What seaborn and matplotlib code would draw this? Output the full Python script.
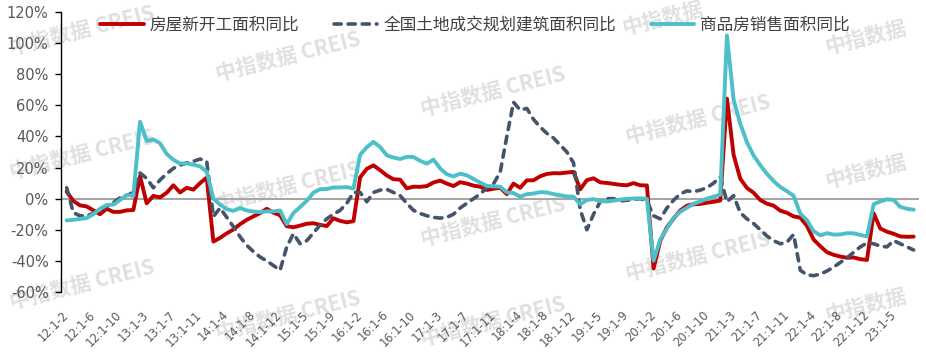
import numpy as np
import pandas as pd
import matplotlib
matplotlib.use("Agg")
import matplotlib.pyplot as plt
import seaborn as sns

# ---------------- data ----------------
years = ["12", "13", "14", "15", "16", "17", "18", "19", "20", "21", "22", "23"]
months = ["1-2", "1-3", "1-4", "1-5", "1-6", "1-7", "1-8", "1-9", "1-10", "1-11", "1-12"]
categories = [f"{y}:{m}" for y in years for m in months][:128]

series_names = ["房屋新开工面积同比", "全国土地成交规划建筑面积同比", "商品房销售面积同比"]

new_start = [
    4.6, -1.5, -4.3, -5.0, -7.5, -10.0, -6.5, -8.5, -8.5, -7.5, -7.3,        # 2012
    14.5, -3.0, 1.8, 0.8, 3.8, 8.6, 4.0, 7.0, 5.8, 10.0, 13.5,               # 2013
    -27.6, -25.2, -22.3, -19.8, -16.4, -13.6, -11.4, -9.3, -6.5, -9.0, -10.7,  # 2014
    -17.7, -18.4, -17.3, -16.1, -15.8, -16.8, -17.6, -12.6, -14.3, -15.2, -14.5,  # 2015
    13.7, 19.2, 21.4, 18.3, 14.9, 12.5, 12.2, 6.6, 7.7, 7.6, 8.1,            # 2016
    10.4, 11.6, 9.7, 8.1, 10.6, 9.7, 8.4, 7.7, 5.6, 6.4, 7.0,                # 2017
    2.9, 9.7, 7.0, 11.8, 11.8, 14.4, 15.9, 16.4, 16.3, 16.8, 17.2,           # 2018
    6.0, 11.9, 13.1, 10.5, 10.1, 9.5, 8.9, 8.6, 10.0, 8.6, 8.5,              # 2019
    -44.9, -27.2, -18.4, -12.8, -7.6, -4.5, -3.6, -3.4, -2.6, -2.0, -1.2,    # 2020
    64.3, 28.2, 12.8, 6.9, 3.8, -0.9, -3.2, -4.5, -7.7, -9.1, -11.4,         # 2021
    -12.2, -17.5, -26.3, -30.6, -34.4, -36.1, -37.2, -38.0, -37.8, -38.9, -39.4,  # 2022
    -9.4, -19.2, -21.2, -22.6, -24.3, -24.5, -24.4,                          # 2023
]

land = [
    7, -9, -11, -11, -9.5, -7, -5, -2.5, 0.5, 2, 4,                          # 2012
    16.5, 13, 7, 12, 16, 19.5, 21.5, 23, 24, 25.5, 24,                       # 2013
    -11.5, -6, -12, -18, -24.5, -30, -34, -37.5, -40, -43, -46,              # 2014
    -31, -22.5, -29, -27, -22, -17, -13, -10, -7.5, -3, 4,                   # 2015
    4, -2, 4, 5.5, 6, 4, 2, -3, -7.5, -9.5, -11,                             # 2016
    -12, -12.5, -12, -10, -6, -3, 0, 3, 7, 9.5, 17,                          # 2017
    40, 62, 57, 58, 51, 46, 42, 39, 34.5, 30, 23,                            # 2018
    -7, -20, -10, -2, 0, 0, -1.5, -1, -0.5, 0, -1.5,                         # 2019
    -11, -13, -6, -1, 3, 5, 4.5, 5.5, 7, 10, 14,                             # 2020
    -2, 2, -9, -13, -16, -20, -24, -27, -29, -28, -23,                       # 2021
    -46, -49, -49.5, -48.5, -46.5, -44, -41, -38, -34.5, -31, -28.5,         # 2022
    -29, -30.5, -31, -27, -29, -31, -33,                                     # 2023
]

sales = [
    -14.0, -13.6, -13.0, -12.5, -10.0, -6.5, -4.1, -3.8, -0.9, 2.4, 1.8,      # 2012
    49.5, 37.1, 38.0, 35.6, 28.7, 25.0, 22.6, 22.7, 21.8, 20.8, 17.3,        # 2013
    -0.1, -3.8, -6.8, -7.8, -6.0, -7.6, -8.3, -8.6, -8.2, -8.2, -7.6,        # 2014
    -16.3, -9.2, -5.4, -1.4, 3.9, 6.1, 6.2, 7.2, 7.2, 7.4, 6.5,              # 2015
    28.2, 33.1, 36.5, 33.2, 27.9, 26.4, 25.5, 26.9, 26.8, 24.3, 22.5,        # 2016
    25.1, 19.5, 15.7, 14.3, 16.1, 15.0, 12.7, 10.3, 8.2, 7.9, 7.7,           # 2017
    4.1, 3.6, 1.3, 2.9, 3.3, 4.2, 4.0, 2.9, 2.2, 1.4, 1.3,                   # 2018
    -3.6, -0.9, -0.3, -1.6, -1.8, -1.3, -0.6, -0.1, 0.1, 0.2, -0.1,          # 2019
    -39.9, -26.3, -19.3, -12.3, -8.4, -5.8, -3.3, -1.8, 0.0, 1.3, 2.6,       # 2020
    104.9, 63.8, 48.1, 36.3, 27.7, 21.5, 15.9, 11.3, 7.5, 4.8, 1.9,          # 2021
    -9.6, -13.8, -20.9, -23.6, -22.2, -23.1, -23.0, -22.2, -22.3, -23.3, -24.3,  # 2022
    -3.6, -1.8, -0.4, -0.9, -5.3, -6.5, -7.1,                                # 2023
]

y_ticks = [-60, -40, -20, 0, 20, 40, 60, 80, 100, 120]
watermark_full = "中指数据 CREIS"
watermark_short = "中指数据"

# ---------------- figure ----------------
sns.set_theme(style="white")
plt.rcParams["font.family"] = ["DejaVu Sans", "Noto Sans CJK SC"]

W, H = 926, 360
fig = plt.figure(figsize=(W / 100, H / 100), dpi=100)
ax = fig.add_axes([61 / W, 1 - 292 / H, 858 / W, 280 / H])

pos = np.arange(len(categories))
df = pd.DataFrame({"pos": pos, "cat": categories,
                   series_names[0]: new_start,
                   series_names[1]: land,
                   series_names[2]: sales})

colors = ["#C00000", "#44546A", "#4DBFC8"]
widths = [2.8, 2.6, 2.8]

# watermarks (behind the data), kept inside the picture
wm_items = [(82, 31, watermark_full), (82, 155, watermark_full), (82, 285, watermark_full),
            (288, 57, watermark_full), (288, 187, watermark_full), (288, 316, watermark_full),
            (493, 92, watermark_full), (493, 222, watermark_full), (493, 322, watermark_full),
            (663, 19, watermark_short), (698, 120, watermark_full), (698, 257, watermark_full),
            (866, 38, watermark_short), (866, 172, watermark_short), (866, 306, watermark_short)]
for (px, py, txt) in wm_items:
    ax.text(px / W, 1 - py / H, txt, transform=fig.transFigure,
            ha="center", va="center", rotation=14, fontsize=15,
            fontweight="bold", color="#E0E0E0",
            family=["Noto Sans CJK SC", "DejaVu Sans"],
            clip_on=False, zorder=0.5)

ax.axhline(0, color="#A6A6A6", lw=1.5, zorder=1)

handles = []
for name, c, lw in zip(series_names, colors, widths):
    sns.lineplot(data=df, x="pos", y=name, color=c, lw=lw, ax=ax,
                 label=name, zorder=3)
    ln = ax.lines[-1]
    ln.set_solid_capstyle("round")
    ln.set_solid_joinstyle("round")
    if name == series_names[1]:
        ln.set_dashes((2.0, 1.9))
        ln.set_dash_capstyle("round")
    handles.append(ln)

ax.set_xlim(-0.85, 127.8)
ax.set_ylim(-60, 120)
ax.set_xlabel("")
ax.set_ylabel("")

ax.set_yticks(y_ticks)
ax.set_yticklabels([f"{v}%" for v in y_ticks])
ax.tick_params(axis="y", direction="out", left=True, length=4, width=1,
               color="black", labelsize=10.5, labelcolor="#595959", pad=5)

ax.set_xticks(pos[::4])
ax.set_xticklabels(categories[::4], rotation=45, ha="right", va="center",
                   rotation_mode="anchor", fontsize=8.3, color="#595959")
ax.tick_params(axis="x", bottom=False, length=0, pad=15)

for s in ["top", "right", "bottom"]:
    ax.spines[s].set_visible(False)
ax.spines["left"].set_color("black")
ax.spines["left"].set_linewidth(1)

leg = ax.legend(handles, series_names, loc="center",
                bbox_to_anchor=(0.4825, 0.954), ncol=3, frameon=False,
                handlelength=2.6, handletextpad=0.35, columnspacing=2.1,
                prop={"family": ["Noto Sans CJK SC", "DejaVu Sans"], "size": 12})
for t in leg.get_texts():
    t.set_color("#404040")

fig.savefig("out.png", dpi=100)
